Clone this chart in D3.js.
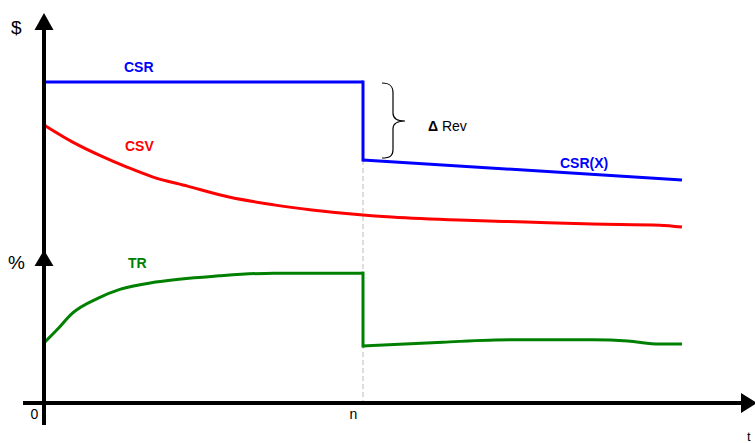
<!DOCTYPE html>
<html>
<head>
<meta charset="utf-8">
<script src="https://cdn.jsdelivr.net/npm/d3@7"></script>
<style>
  html, body { margin: 0; padding: 0; background: #fff; }
  svg { display: block; font-family: "Liberation Sans", Arial, sans-serif; }
</style>
</head>
<body>
<svg id="chart" width="755" height="443"></svg>
<script>
// ---- data ----
const xTickValues = [0, 10];
const xTickLabels = ["0", "n"];
const nValue = 10;

const csrT = [0, 10, 10, 20];
const csrV = [82.3, 82.3, 62.3, 57.2];

const csvT = [0, 0.9, 1.8, 2.6, 3.4, 4.5, 5.8, 7.2, 8.4, 10, 10.9, 13.0, 15.1, 17.2, 19.3, 20];
const csvV = [71.3, 66.9, 63.3, 60.5, 58.0, 55.6, 52.8, 50.8, 49.5, 48.2, 47.7, 46.9, 46.4, 45.9, 45.6, 45.1];

const trT = [0, 0.4, 0.9, 1.7, 2.4, 3.5, 5.5, 7.2, 10, 10, 12.5, 14.6, 17.2, 18.3, 19.3, 20];
const trV = [15.4, 18.7, 23.1, 26.9, 29.2, 31.0, 32.6, 33.3, 33.3, 14.6, 15.6, 16.2, 16.2, 15.9, 15.1, 15.1];

const seriesNames = ["CSR", "CSV", "TR", "CSR(X)"];

// ---- scales ----
const svg = d3.select("#chart");
const x = d3.scaleLinear().domain([0, 20]).range([44, 682]);
const y = d3.scaleLinear().domain([0, 100]).range([403, 13]);

const zip = (a, b) => a.map((v, i) => [v, b[i]]);
// split a series into pieces at repeated t (vertical jumps), returning smooth pieces + jump segments
function drawSeries(T, V, color, smooth) {
  const pts = zip(T, V);
  const pieces = [[pts[0]]];
  const jumps = [];
  for (let i = 1; i < pts.length; i++) {
    if (pts[i][0] === pts[i - 1][0]) { jumps.push([pts[i - 1], pts[i]]); pieces.push([pts[i]]); }
    else pieces[pieces.length - 1].push(pts[i]);
  }
  const ln = d3.line().x(d => x(d[0])).y(d => y(d[1]))
    .curve(smooth ? d3.curveMonotoneX : d3.curveLinear);
  const straight = d3.line().x(d => x(d[0])).y(d => y(d[1]));
  pieces.filter(p => p.length > 1).forEach(p =>
    svg.append("path").datum(p).attr("d", ln).attr("fill", "none")
      .attr("stroke", color).attr("stroke-width", 3).attr("stroke-linejoin", "round"));
  jumps.forEach(j =>
    svg.append("path").datum(j).attr("d", straight).attr("fill", "none")
      .attr("stroke", color).attr("stroke-width", 3).attr("stroke-linecap", "square"));
}

// dashed marker at n
svg.append("line")
  .attr("x1", x(nValue)).attr("x2", x(nValue))
  .attr("y1", y(62.3)).attr("y2", y(0))
  .attr("stroke", "#bbb").attr("stroke-width", 1)
  .attr("stroke-dasharray", "5,3");

// series
drawSeries(csvT, csvV, "#ff0000", true);
drawSeries(trT, trV, "#008000", true);
drawSeries(csrT, csrV, "#0000ff", false);

// axes (arrows)
svg.append("line").attr("x1", x(0)).attr("x2", x(0)).attr("y1", 28).attr("y2", 425)
  .attr("stroke", "#000").attr("stroke-width", 4);
svg.append("line").attr("x1", 23).attr("x2", 743).attr("y1", y(0)).attr("y2", y(0))
  .attr("stroke", "#000").attr("stroke-width", 4);
svg.append("path").attr("d", `M${x(0)},13 L${x(0) + 9.5},30 L${x(0) - 9.5},30 Z`).attr("fill", "#000");
svg.append("path").attr("d", `M${x(0)},250 L${x(0) + 9.5},266 L${x(0) - 9.5},266 Z`).attr("fill", "#000");
svg.append("path").attr("d", `M757,${y(0)} L741,${y(0) - 10} L741,${y(0) + 10} Z`).attr("fill", "#000");

// x tick labels via d3 axis
const xAxis = d3.axisBottom(x).tickValues(xTickValues)
  .tickFormat((d, i) => xTickLabels[i]).tickSize(0).tickPadding(0);
const gx = svg.append("g").attr("transform", `translate(0,${y(0)})`).call(xAxis);
gx.select(".domain").remove();
gx.selectAll("text")
  .attr("font-family", "Liberation Sans, Arial, sans-serif")
  .attr("font-size", 14).attr("fill", "#000")
  .attr("dy", 16).attr("dx", -10);

// axis labels
svg.append("text").attr("x", 11).attr("y", 34).attr("font-size", 19).text("$");
svg.append("text").attr("x", 8).attr("y", 269).attr("font-size", 19).text("%");
svg.append("text").attr("x", 747).attr("y", 441).attr("font-size", 13).text("t");

// series labels
const lab = (t, xx, yy, col) => svg.append("text").attr("x", xx).attr("y", yy)
  .attr("font-size", 14).attr("font-weight", "bold").attr("fill", col).text(t);
lab(seriesNames[0], 124, 72, "#0000ff");
lab(seriesNames[1], 125, 151, "#ff0000");
lab(seriesNames[2], 128, 268, "#008000");
lab(seriesNames[3], 560, 168, "#0000ff");

// brace
svg.append("path")
  .attr("d", "M382,83 C390,83 393,86 393,93 L393,113 C393,119 397,121 405,121 C397,121 393,123 393,129 L393,149 C393,156 390,158 382,158")
  .attr("fill", "none").attr("stroke", "#000").attr("stroke-width", 1.2);
const dr = svg.append("text").attr("x", 428).attr("y", 131).attr("font-size", 14);
dr.append("tspan").attr("font-weight", "bold").text("Δ");
dr.append("tspan").text(" Rev");
</script>
</body>
</html>
